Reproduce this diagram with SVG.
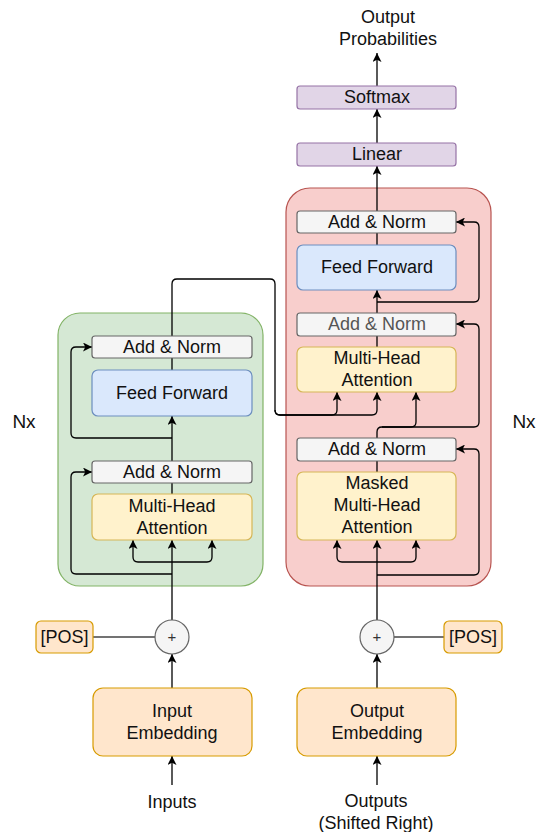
<svg xmlns="http://www.w3.org/2000/svg" width="537" height="832" viewBox="0 0 537 832">
  <defs>
    <marker id="arrow" viewBox="0 0 10 10" refX="10" refY="5" markerWidth="9" markerHeight="9" markerUnits="userSpaceOnUse" orient="auto">
      <path d="M0,0 L10,5 L0,10 L2.5,5 z" fill="#000"/>
    </marker>
  </defs>
  <style>
    text { font-family: "Liberation Sans", Arial, Helvetica, sans-serif; font-size: 18px; fill: #111; text-anchor: middle; dominant-baseline: central; }
    .norm { fill: #f5f5f5; stroke: #666; stroke-width: 1.2; }
    .ff { fill: #dae8fc; stroke: #6c8ebf; stroke-width: 1.2; }
    .attn { fill: #fff2cc; stroke: #d6b656; stroke-width: 1.2; }
    .emb { fill: #ffe6cc; stroke: #d79b00; stroke-width: 1.2; }
    .out { fill: #e1d5e7; stroke: #9673a6; stroke-width: 1.2; }
    .enc { fill: #d5e8d4; stroke: #82b366; stroke-width: 1.2; }
    .dec { fill: #f8cecc; stroke: #b85450; stroke-width: 1.2; }
    .sum { fill: #f5f5f5; stroke: #666; stroke-width: 1.2; }
    .edge { fill: none; stroke: #000; stroke-width: 1.3; }
    .arr { marker-end: url(#arrow); }
    .plain { fill: none; stroke: #444; stroke-width: 1.3; }
  </style>

  <!-- stack containers -->
  <g id="encoder-stack"><rect class="enc" x="58" y="313" width="205" height="273" rx="22"/></g>
  <g id="decoder-stack"><rect class="dec" x="286" y="188" width="205" height="398" rx="24"/></g>

  <!-- connectors -->
  <g id="connectors">
    <!-- encoder side -->
    <path class="edge arr" d="M172,785 L172,756"/>
    <path class="edge arr" d="M172,688 L172,654"/>
    <path class="plain" d="M93,637 L155,637"/>
    <path class="edge arr" d="M172,620 L172,540"/>
    <path class="edge arr" d="M172,562 L138,562 Q133,562 133,557 L133,540"/>
    <path class="edge arr" d="M172,562 L207,562 Q212,562 212,557 L212,540"/>
    <path class="edge arr" d="M172,574 L76,574 Q71,574 71,569 L71,477 Q71,472 76,472 L92,472"/>
    <path class="edge" d="M172,494 L172,483"/>
    <path class="edge arr" d="M172,461 L172,416"/>
    <path class="edge arr" d="M172,438 L76,438 Q71,438 71,433 L71,352 Q71,347 76,347 L92,347"/>
    <path class="edge" d="M172,370 L172,358"/>
    <path class="edge arr" d="M172,336 L172,284 Q172,279 177,279 L270,279 Q275,279 275,284 L275,410 Q275,415 280,415 L332,415 Q337,415 337,410 L337,392"/>
    <path class="edge arr" d="M275,410 Q275,415 280,415 L372,415 Q377,415 377,410 L377,392"/>
    <!-- decoder side -->
    <path class="edge arr" d="M377,785 L377,756"/>
    <path class="edge arr" d="M377,688 L377,654"/>
    <path class="plain" d="M394,637 L444,637"/>
    <path class="edge arr" d="M377,620 L377,540"/>
    <path class="edge arr" d="M377,562 L342,562 Q337,562 337,557 L337,540"/>
    <path class="edge arr" d="M377,562 L411,562 Q416,562 416,557 L416,540"/>
    <path class="edge arr" d="M377,575 L474,575 Q479,575 479,570 L479,454 Q479,449 474,449 L456,449"/>
    <path class="edge" d="M377,472 L377,461"/>
    <path class="edge arr" d="M377,438 L377,432 Q377,427 382,427 L411,427 Q416,427 416,422 L416,392"/>
    <path class="edge arr" d="M382,427 L474,427 Q479,427 479,422 L479,329 Q479,324 474,324 L456,324"/>
    <path class="edge" d="M377,347 L377,336"/>
    <path class="edge arr" d="M377,313 L377,290"/>
    <path class="edge arr" d="M377,302 L474,302 Q479,302 479,297 L479,227 Q479,222 474,222 L456,222"/>
    <path class="edge" d="M377,245 L377,233"/>
    <path class="edge arr" d="M377,211 L377,166"/>
    <path class="edge arr" d="M377,143 L377,109"/>
    <path class="edge arr" d="M377,86 L377,53"/>
  </g>

  <!-- encoder nodes -->
  <g id="enc-addnorm-2"><rect class="norm" x="92" y="336" width="160" height="22" rx="3"/><text x="172" y="347">Add &amp; Norm</text></g>
  <g id="enc-feedforward"><rect class="ff" x="92" y="370" width="160" height="46" rx="6"/><text x="172" y="393">Feed Forward</text></g>
  <g id="enc-addnorm-1"><rect class="norm" x="92" y="461" width="160" height="22" rx="3"/><text x="172" y="472">Add &amp; Norm</text></g>
  <g id="enc-attention"><rect class="attn" x="92" y="494" width="160" height="46" rx="6"/><text x="172" y="506">Multi-Head</text><text x="172" y="528">Attention</text></g>
  <g id="enc-sum"><circle class="sum" cx="172" cy="637" r="17"/><text x="172" y="636" style="font-size:15px;fill:#333">+</text></g>
  <g id="enc-pos"><rect class="emb" x="36" y="621" width="57" height="32" rx="5"/><text x="64.5" y="637">[POS]</text></g>
  <g id="input-embedding"><rect class="emb" x="93" y="688" width="159" height="68" rx="10"/><text x="172" y="711">Input</text><text x="172" y="733">Embedding</text></g>
  <g id="inputs"><text x="172" y="802">Inputs</text></g>
  <g id="enc-nx"><text x="24" y="421" style="font-size:19px">Nx</text></g>

  <!-- decoder nodes -->
  <g id="dec-addnorm-3"><rect class="norm" x="297" y="211" width="159" height="22" rx="3"/><text x="377" y="222">Add &amp; Norm</text></g>
  <g id="dec-feedforward"><rect class="ff" x="297" y="245" width="159" height="45" rx="6"/><text x="377" y="267">Feed Forward</text></g>
  <g id="dec-addnorm-2"><rect class="norm" x="297" y="313" width="159" height="23" rx="3"/><text x="377" y="324" style="fill:#555">Add &amp; Norm</text></g>
  <g id="dec-attention"><rect class="attn" x="297" y="347" width="159" height="45" rx="6"/><text x="377" y="358">Multi-Head</text><text x="377" y="380">Attention</text></g>
  <g id="dec-addnorm-1"><rect class="norm" x="297" y="438" width="159" height="23" rx="3"/><text x="377" y="449">Add &amp; Norm</text></g>
  <g id="dec-masked-attention"><rect class="attn" x="297" y="472" width="159" height="68" rx="6"/><text x="377" y="483">Masked</text><text x="377" y="505">Multi-Head</text><text x="377" y="527">Attention</text></g>
  <g id="dec-sum"><circle class="sum" cx="377" cy="637" r="17"/><text x="377" y="636" style="font-size:15px;fill:#333">+</text></g>
  <g id="dec-pos"><rect class="emb" x="444" y="621" width="58" height="32" rx="5"/><text x="473" y="637">[POS]</text></g>
  <g id="output-embedding"><rect class="emb" x="297" y="688" width="159" height="68" rx="10"/><text x="377" y="711">Output</text><text x="377" y="733">Embedding</text></g>
  <g id="outputs"><text x="376" y="801">Outputs</text><text x="376" y="823">(Shifted Right)</text></g>
  <g id="dec-nx"><text x="524" y="421" style="font-size:19px">Nx</text></g>

  <!-- output head -->
  <g id="linear"><rect class="out" x="297" y="143" width="159" height="23" rx="3"/><text x="377" y="154">Linear</text></g>
  <g id="softmax"><rect class="out" x="297" y="86" width="159" height="23" rx="3"/><text x="377" y="97">Softmax</text></g>
  <g id="output-probabilities"><text x="388" y="17">Output</text><text x="388" y="39">Probabilities</text></g>
</svg>
